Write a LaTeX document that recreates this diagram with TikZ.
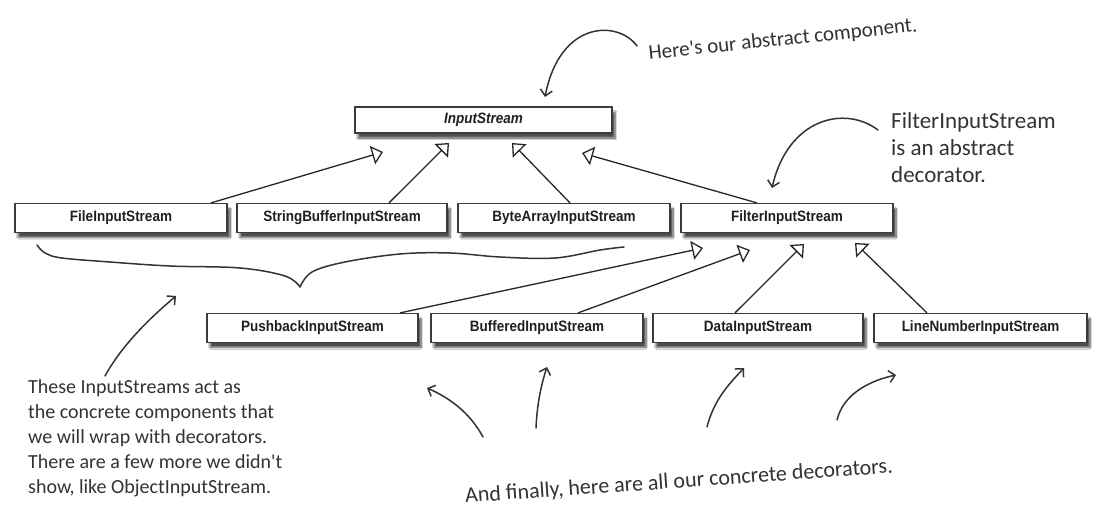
\documentclass[tikz,border=0pt]{standalone}
\usepackage{fontspec}
\newfontfamily\boxfont[FakeStretch=0.9]{Liberation Sans}
\newfontfamily\handfont{Carlito}
\usetikzlibrary{arrows.meta,shadows.blur,calc}
\definecolor{ink}{HTML}{333333}
\definecolor{boxline}{HTML}{3C3C3C}
\tikzset{
  umlbox/.style={draw=boxline, line width=1.2pt, fill=white, minimum height=29pt, inner sep=0pt,
    font=\boxfont\bfseries\fontsize{15}{17}\selectfont, text=black!88,
    blur shadow={shadow xshift=3pt, shadow yshift=-5pt, shadow blur steps=8, shadow opacity=70}},
  gen/.style={draw=black!85, line width=1.3pt, -{Triangle[open, length=11pt, width=19pt, line width=1.3pt]}},
  hand/.style={draw=ink, line width=1.5pt, line cap=round, line join=round},
  harrow/.style={hand, -{Straight Barb[length=6pt, width=12pt, line width=1.5pt]}},
  note/.style={text=ink, font=\handfont\fontsize{20}{25}\selectfont, inner sep=0pt, align=left}
}
\begin{document}
\begin{tikzpicture}[x=1pt, y=-1pt]
\useasboundingbox (0,0) rectangle (1106,527);
\fill[white] (0,0) rectangle (1106,527);

% boxes
\node[umlbox, minimum width=257pt, font=\boxfont\bfseries\itshape\fontsize{15}{17}\selectfont, minimum height=26pt] (in) at (483.5,120) {InputStream};
\node[umlbox, minimum width=212pt] (file) at (121,218) {FileInputStream};
\node[umlbox, minimum width=210pt] (sb) at (342,218) {StringBufferInputStream};
\node[umlbox, minimum width=212pt] (ba) at (564,218) {ByteArrayInputStream};
\node[umlbox, minimum width=212pt] (filt) at (787,218) {FilterInputStream};
\node[umlbox, minimum width=211pt] (push) at (312.5,328) {PushbackInputStream};
\node[umlbox, minimum width=212pt] (buf) at (537,328) {BufferedInputStream};
\node[umlbox, minimum width=210pt] (data) at (758,328) {DataInputStream};
\node[umlbox, minimum width=213pt] (ln) at (980.5,328) {LineNumberInputStream};

% generalization tips
\coordinate (t1) at (383,152);
\coordinate (t2) at (449,143);
\coordinate (t3) at (512,143);
\coordinate (t4) at (582,153);
\coordinate (u1) at (703,248);
\coordinate (u2) at (750,250);
\coordinate (u3) at (804,244);
\coordinate (u4) at (855,243);

\draw[gen] ([xshift=90pt]file.north) -- (t1);
\draw[gen] ([xshift=47pt]sb.north) -- (t2);
\draw[gen] ([xshift=6pt]ba.north) -- (t3);
\draw[gen] ([xshift=-30pt]filt.north) -- (t4);
\draw[gen] ([xshift=87.5pt]push.north) -- (u1);
\draw[gen] ([xshift=41pt]buf.north) -- (u2);
\draw[gen] ([xshift=-23pt]data.north) -- (u3);
\draw[gen] ([xshift=-53.5pt]ln.north) -- (u4);

% brace
\draw[hand] plot[smooth, tension=0.6] coordinates {(37,245) (45,253) (62,258) (110,262) (170,266) (240,268) (285,276) (300,287)};
\draw[hand] plot[smooth, tension=0.6] coordinates {(300,287) (312,272) (345,262) (400,254) (450,253) (500,257) (555,258) (600,250) (624,247)};

% annotations
\node[note, rotate=6, font=\handfont\fontsize{21}{25}\selectfont] (abs) at (783,40) {Here's our abstract component.};
\node[note, anchor=north west, font=\handfont\fontsize{23}{27}\selectfont] (filtnote) at (891,112) {FilterInputStream\\is an abstract\\decorator.};
\node[note, anchor=north west] (leftnote) at (28,379) {These InputStreams act as\\the concrete components that\\we will wrap with decorators.\\There are a few more we didn't\\show, like ObjectInputStream.};
\node[note, rotate=4, font=\handfont\fontsize{22}{26}\selectfont] (botnote) at (679,482) {And finally, here are all our concrete decorators.};

% hand arrows
\coordinate (a0s) at (637,46);  \coordinate (a0e) at (545,97);
\coordinate (a1s) at (878,130); \coordinate (a1e) at (772,188);
\coordinate (a2s) at (105,376); \coordinate (a2e) at (176,296);
\coordinate (b1s) at (483,437); \coordinate (b1e) at (427,388);
\coordinate (b2s) at (536,428); \coordinate (b2e) at (547,367);
\coordinate (b3s) at (707,427); \coordinate (b3e) at (744,368);
\coordinate (b4s) at (837,420); \coordinate (b4e) at (896,375);

\draw[harrow] (a0s) .. controls (618,20) and (560,20) .. (a0e);
\draw[harrow] (a1s) .. controls (845,105) and (788,118) .. (a1e);
\draw[harrow] (a2s) .. controls (122,345) and (150,318) .. (a2e);
\draw[harrow] (b1s) .. controls (470,413) and (450,398) .. (b1e);
\draw[harrow] (b2s) .. controls (537,405) and (541,385) .. (b2e);
\draw[harrow] (b3s) .. controls (714,400) and (728,385) .. (b3e);
\draw[harrow] (b4s) .. controls (843,395) and (868,381) .. (b4e);
\end{tikzpicture}
\end{document}
